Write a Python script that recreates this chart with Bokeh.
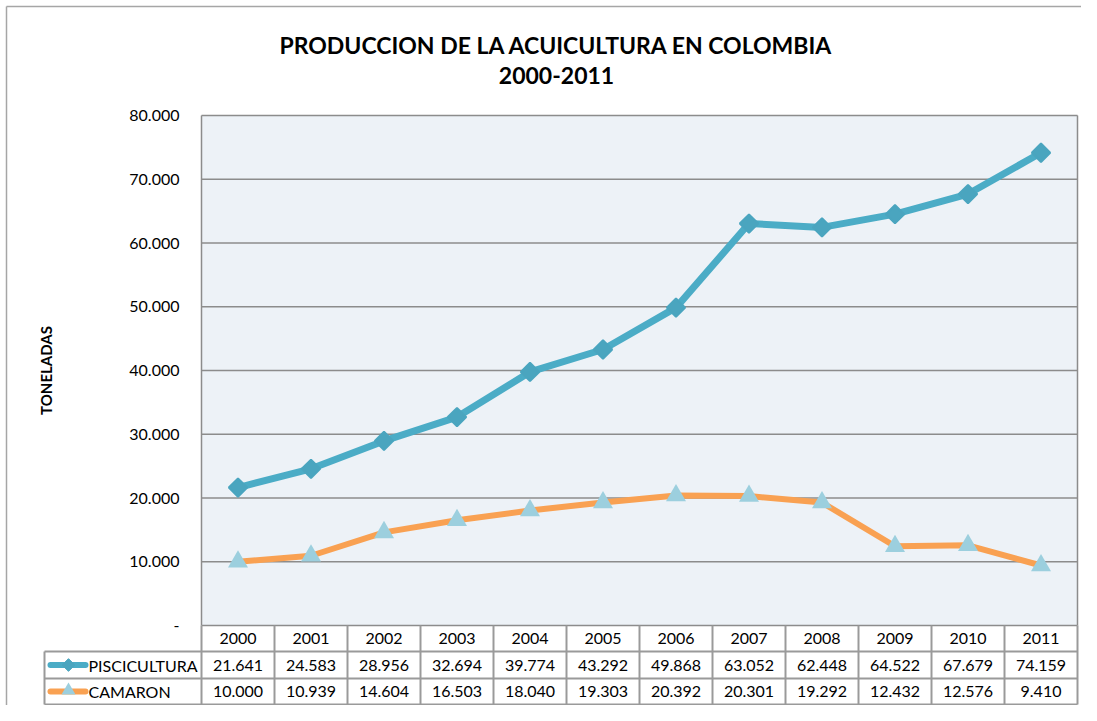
import math
from bokeh.plotting import figure
from bokeh.models import Range1d, FixedTicker
from bokeh.core.properties import value
from bokeh.embed import file_html
from bokeh.resources import INLINE

# ---------------- data ----------------
years = ["2000", "2001", "2002", "2003", "2004", "2005",
         "2006", "2007", "2008", "2009", "2010", "2011"]
piscicultura = [21641, 24583, 28956, 32694, 39774, 43292,
                49868, 63052, 62448, 64522, 67679, 74159]
camaron = [10000, 10939, 14604, 16503, 18040, 19303,
           20392, 20301, 19292, 12432, 12576, 9410]
series_names = ["PISCICULTURA", "CAMARON"]
y_ticks = [0, 10000, 20000, 30000, 40000, 50000, 60000, 70000, 80000]
y_tick_labels = ["-", "10.000", "20.000", "30.000", "40.000",
                 "50.000", "60.000", "70.000", "80.000"]
title_lines = ["PRODUCCION DE LA ACUICULTURA EN COLOMBIA", "2000-2011"]
y_label = "TONELADAS"

# ---------------- styles / layout (pixels) ----------------
FONT = "Lato"
TEAL = "#4BACC6"
TEAL_MK = "#4AA5BF"
ORANGE = "#F9A152"
TRI = "#9CCFDE"
BG = "#EDF2F7"
GRID = "#8C8C8C"
CELL = "#9A9A9A"
BORDER = "#A6A6A6"

W, H = 1081, 705
PL, PR = 201, 1077          # plot area left/right (px)
PT, PB = 115, 625           # plot area top/bottom (px)
ROW_H = [26, 27, 26]        # table rows heights: header, row1, row2
LEG_L = 44                  # legend column left (px)

n = len(years)
xs = list(range(n))
ppu = (PR - PL) / n
x_start = -0.5 - PL / ppu
x_end = n - 0.5 + (W - PR) / ppu
y_top_val = max(y_ticks)
tpp = y_top_val / (PB - PT)
y_start = -(H - PB) * tpp
y_end = y_top_val + PT * tpp

def fmt(v):
    return f"{v:,}".replace(",", ".")

def px2x(px):
    return x_start + px / ppu

p = figure(width=W, height=H, output_backend="svg", toolbar_location=None,
           x_range=Range1d(x_start, x_end), y_range=Range1d(y_start, y_end),
           min_border=0, x_axis_location=None)
p.extra_y_ranges = {"px": Range1d(H, 0)}
p.extra_x_ranges = {"px": Range1d(0, W)}
p.background_fill_color = "white"
p.border_fill_color = "white"
p.outline_line_color = None
p.grid.visible = False

# y axis fixed at the left edge of the plot area
yax = p.yaxis[0]
yax.fixed_location = -0.5
yax.ticker = FixedTicker(ticks=y_ticks)
yax.major_label_overrides = {t: l for t, l in zip(y_ticks, y_tick_labels)}
yax.axis_line_color = None
yax.major_tick_line_color = None
yax.minor_tick_line_color = None
yax.major_tick_out = 0
yax.major_tick_in = 0
yax.major_label_standoff = 22
yax.major_label_text_font = FONT
yax.major_label_text_font_size = "16px"
yax.major_label_text_color = "#000000"

# outer chart border (left and top edges visible)
p.segment(x0=[6, 6], y0=[6, 6], x1=[6, W], y1=[H, 6], line_color=BORDER,
          line_width=1.5, x_range_name="px", y_range_name="px")

# title
p.text([556, 556], [44, 75], text=title_lines, text_align="center",
       text_baseline="middle", text_font=value(FONT), text_font_size="23px",
       text_font_style="bold", text_color="#000000",
       x_range_name="px", y_range_name="px")

# y axis title
p.text([45], [(PT + PB) / 2], text=[y_label], angle=math.pi / 2,
       text_align="center", text_baseline="middle", text_font=value(FONT),
       text_font_size="15px", text_font_style="bold", text_color="#000000",
       x_range_name="px", y_range_name="px")

# plot area
p.quad(left=[-0.5], right=[n - 0.5], bottom=[0], top=[y_top_val],
       fill_color=BG, line_color=None)
p.segment(x0=[-0.5] * len(y_ticks), y0=y_ticks, x1=[n - 0.5] * len(y_ticks),
          y1=y_ticks, line_color=GRID, line_width=1.5)
p.segment(x0=[-0.5, n - 0.5], y0=[0, 0], x1=[-0.5, n - 0.5],
          y1=[y_top_val, y_top_val], line_color=GRID, line_width=1.5)

# series
p.line(xs, piscicultura, line_color=TEAL, line_width=7, line_join="round")
p.scatter(xs, piscicultura, marker="square", angle=math.pi / 4, size=13,
          fill_color=TEAL_MK, line_color=TEAL_MK, line_width=2)
p.line(xs, camaron, line_color=ORANGE, line_width=6, line_join="round")
p.scatter(xs, camaron, marker="triangle", size=20, fill_color=TRI,
          line_color=None)

# ---------------- data table ----------------
y_hdr_top = PB
y_r1_top = PB + ROW_H[0]
y_r2_top = y_r1_top + ROW_H[1]
y_bot = y_r2_top + ROW_H[2]
leg_left = px2x(LEG_L)
first, last = -0.5, n - 0.5

vx = [first + i for i in range(n + 1)] + [leg_left]
vy0 = [y_hdr_top] * (n + 1) + [y_r1_top]
vy1 = [y_bot] * (n + 2)
p.segment(x0=vx, y0=vy0, x1=vx, y1=vy1, line_color=CELL, line_width=2,
          y_range_name="px")
hy = [y_r1_top, y_r2_top, y_bot]
p.segment(x0=[leg_left] * 3, y0=hy, x1=[last] * 3, y1=hy, line_color=CELL,
          line_width=2, y_range_name="px")

ts = dict(text_font=value(FONT), text_font_size="16px", text_color="#000000",
          text_baseline="middle", y_range_name="px")
hdr_c = (y_hdr_top + y_r1_top) / 2
r1c = (y_r1_top + y_r2_top) / 2
r2c = (y_r2_top + y_bot) / 2
p.text(xs, [hdr_c] * n, text=years, text_align="center", **ts)
p.text(xs, [r1c] * n, text=[fmt(v) for v in piscicultura], text_align="center", **ts)
p.text(xs, [r2c] * n, text=[fmt(v) for v in camaron], text_align="center", **ts)

# legend keys
p.segment(x0=[px2x(50)] * 2, y0=[r1c, r2c], x1=[px2x(85)] * 2, y1=[r1c, r2c],
          line_color=[TEAL, ORANGE], line_width=6, line_cap="round",
          y_range_name="px")
p.scatter([px2x(68)], [r1c], marker="square", angle=math.pi / 4, size=9,
          fill_color=TEAL_MK, line_color=TEAL_MK, y_range_name="px")
p.scatter([px2x(68)], [r2c - 1], marker="triangle", size=14, fill_color=TRI,
          line_color=None, y_range_name="px")
p.text([px2x(88)] * 2, [r1c, r2c], text=series_names, text_align="left", **ts)

open("out.html", "w").write(file_html(p, INLINE))
